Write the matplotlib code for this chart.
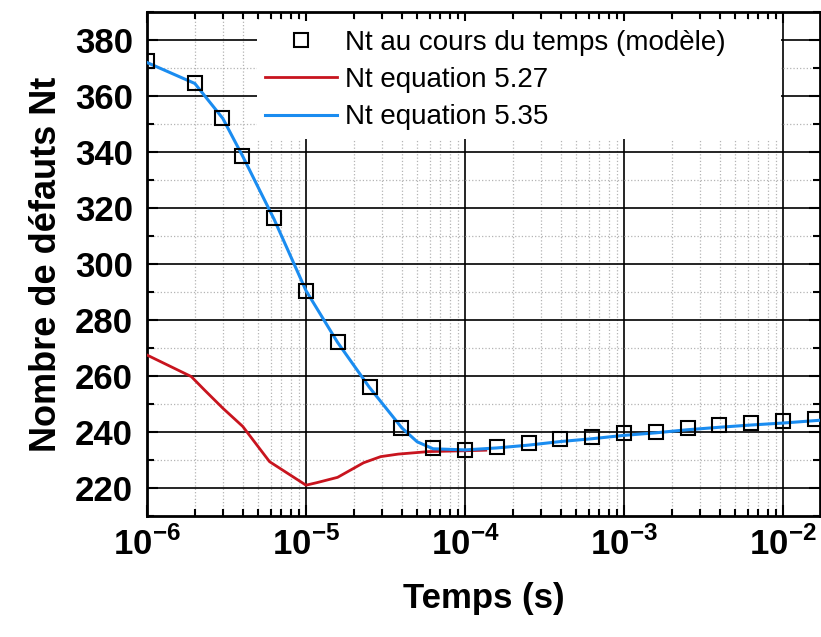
import math
import matplotlib
matplotlib.use("Agg")
import matplotlib.pyplot as plt
from matplotlib.ticker import LogLocator, MultipleLocator, NullFormatter, FuncFormatter

plt.rcParams["font.family"] = ["Liberation Sans", "DejaVu Sans"]
plt.rcParams["mathtext.fontset"] = "custom"
plt.rcParams["mathtext.rm"] = "Liberation Sans:bold"
plt.rcParams["mathtext.bf"] = "Liberation Sans:bold"

# Nt au cours du temps (modèle) - carrés
t_model = [1e-6, 2e-6, 2.95e-6, 3.98e-6, 6.31e-6, 1e-5, 1.58e-5, 2.51e-5, 3.98e-5,
           6.31e-5, 1e-4, 1.58e-4, 2.51e-4, 3.98e-4, 6.31e-4, 1e-3, 1.58e-3,
           2.51e-3, 3.98e-3, 6.31e-3, 1e-2, 1.58e-2]
nt_model = [372.5, 364.5, 352.0, 338.6, 316.3, 290.5, 272.3, 256.2, 241.3,
            234.2, 233.6, 234.8, 236.0, 237.5, 238.2, 239.6, 240.1,
            241.5, 242.5, 243.3, 243.8, 244.5]

# Nt equation 5.27
t_527 = [1e-6, 1.9e-6, 2.3e-6, 3.0e-6, 4e-6, 5.9e-6, 1e-5, 1.17e-5, 1.58e-5,
         2.3e-5, 2.95e-5, 3.8e-5, 5.9e-5, 1e-4, 1.35e-4]
nt_527 = [267.5, 259.8, 255.0, 248.5, 242.0, 229.4, 221.0, 221.9, 223.8,
          229.0, 231.2, 232.1, 233.0, 233.3, 233.5]

# Nt equation 5.35
t_535 = [1e-6, 2e-6, 3e-6, 4e-6, 6.3e-6, 1e-5, 1.58e-5, 2.5e-5, 4e-5, 5e-5,
         6.3e-5, 1e-4, 1.58e-4, 2.5e-4, 4e-4, 6.3e-4, 1e-3, 1.58e-3, 2.5e-3,
         4e-3, 6.3e-3, 1e-2, 1.71e-2]
nt_535 = [372.0, 364.5, 352.0, 338.5, 316.0, 290.5, 272.0, 256.0, 241.5, 236.5,
          234.0, 233.6, 234.3, 235.3, 236.6, 237.6, 238.8, 239.7, 240.8,
          241.7, 242.5, 243.2, 244.2]

fig = plt.figure(figsize=(8.21, 6.37), dpi=100)
ax = fig.add_axes([0.179, 0.19, 0.82, 0.791])

ax.plot(t_527, nt_527, color="#c8141e", lw=2.0, label="Nt equation 5.27", zorder=3)
ax.plot(t_535, nt_535, color="#1a8cf0", lw=2.2, label="Nt equation 5.35", zorder=4)
ax.plot(t_model, nt_model, ls="none", marker="s", ms=10, mfc="none", mec="black",
        mew=1.5, label="Nt au cours du temps (modèle)", zorder=5)

ax.set_xscale("log")
ax.set_xlim(1e-6, 1.71e-2)
ax.set_ylim(210, 390)

ax.xaxis.set_major_locator(LogLocator(base=10, numticks=10))
ax.xaxis.set_minor_locator(LogLocator(base=10, subs=range(2, 10), numticks=50))
ax.xaxis.set_minor_formatter(NullFormatter())
ax.xaxis.set_major_formatter(FuncFormatter(lambda v, p: r"$10^{%d}$" % round(math.log10(v))))
ax.yaxis.set_major_locator(MultipleLocator(20))
ax.yaxis.set_minor_locator(MultipleLocator(10))
ax.set_yticks(range(220, 381, 20))

ax.grid(which="major", color="black", lw=1.2, ls="-")
ax.grid(which="minor", color="#b4b4b4", lw=0.9, ls=":")
ax.set_axisbelow(True)

ax.tick_params(which="both", direction="in", top=True, right=True, width=1.5)
ax.tick_params(which="major", length=8, labelsize=25)
ax.tick_params(axis="y", which="major", pad=10)
ax.tick_params(axis="x", which="major", pad=8)
ax.tick_params(which="minor", length=5)
for lab in ax.get_yticklabels():
    lab.set_fontweight("bold")
for s in ax.spines.values():
    s.set_linewidth(2)

ax.set_xlabel("Temps (s)", fontsize=25, fontweight="bold", labelpad=14)
ax.set_ylabel("Nombre de défauts Nt", fontsize=26, fontweight="bold", labelpad=8)

h, l = ax.get_legend_handles_labels()
order = [2, 0, 1]
leg = ax.legend([h[i] for i in order], [l[i] for i in order], loc="upper left",
                bbox_to_anchor=(0.163, 0.70, 0.779, 0.282), mode="expand",
                borderaxespad=0, fontsize=20, frameon=True, fancybox=False,
                handlelength=2.6, handletextpad=0.29, labelspacing=0.41,
                borderpad=0.3)
leg.get_frame().set_facecolor("white")
leg.get_frame().set_edgecolor("none")
leg.get_frame().set_alpha(1)

fig.savefig("out.png", dpi=100)
